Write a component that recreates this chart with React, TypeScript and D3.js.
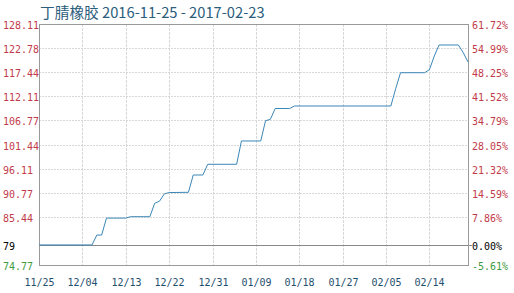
import React from "react";
import * as d3 from "d3";

const TITLE = "丁腈橡胶 2016-11-25 - 2017-02-23";
const BASE = 79.21;

const dates = [
  "2016-11-25", "2016-12-06", "2016-12-07", "2016-12-08", "2016-12-09", "2016-12-13",
  "2016-12-14", "2016-12-18", "2016-12-19", "2016-12-20", "2016-12-21", "2016-12-22",
  "2016-12-26", "2016-12-27", "2016-12-29", "2016-12-30", "2017-01-05", "2017-01-06",
  "2017-01-10", "2017-01-11", "2017-01-12", "2017-01-13", "2017-01-16", "2017-01-17",
  "2017-02-06", "2017-02-07", "2017-02-08", "2017-02-13", "2017-02-14", "2017-02-15",
  "2017-02-16", "2017-02-20", "2017-02-21", "2017-02-22",
];
const values = [
  79.21, 79.21, 81.4, 81.4, 85.15, 85.15,
  85.46, 85.46, 88.43, 88.9, 90.5, 90.8,
  90.86, 94.69, 94.69, 97.06, 97.06, 102.22,
  102.22, 106.71, 107.0, 109.41, 109.41, 109.96,
  109.96, 113.8, 117.33, 117.33, 118.0, 121.0,
  123.46, 123.46, 121.8, 119.7,
];

const yTickValues = [74.77, 79.21, 85.44, 90.77, 96.11, 101.44, 106.77, 112.11, 117.44, 122.78, 128.11];
const yTickLabels = ["74.77", "79", "85.44", "90.77", "96.11", "101.44", "106.77", "112.11", "117.44", "122.78", "128.11"];
const pctLabels = ["-5.61%", "0.00%", "7.86%", "14.59%", "21.32%", "28.05%", "34.79%", "41.52%", "48.25%", "54.99%", "61.72%"];
const xTickDates = ["2016-11-25", "2016-12-04", "2016-12-13", "2016-12-22", "2016-12-31", "2017-01-09", "2017-01-18", "2017-01-27", "2017-02-05", "2017-02-14"];
const xDomain = ["2016-11-25", "2017-02-22"];

const parse = d3.timeParse("%Y-%m-%d");
const fmt = d3.timeFormat("%m/%d");

const W = 514, H = 293;
const L = 39, R = 468, T = 24, B = 265;
const RED = "#c23b4a", GREEN = "#3e9b3e", BLUE = "#3a87b8";
const FONT = "'DejaVu Sans Mono', monospace";

export default function App() {
  const x = d3.scaleTime().domain(xDomain.map((d) => parse(d) as Date)).range([L, R]);
  const y = d3.scaleLinear().domain([74.77, 128.11]).range([B, T]);
  const pts = dates.map((d, i) => ({ t: parse(d) as Date, v: values[i] }));
  const line = d3.line<{ t: Date; v: number }>().x((d) => x(d.t)).y((d) => y(d.v));
  const colorFor = (v: number) => (Math.abs(v - BASE) < 0.01 ? "#000" : v > BASE ? RED : GREEN);

  return (
    <svg width={W} height={H} style={{ position: "absolute", left: 0, top: 0, background: "#fff" }}>
      <rect x={0} y={0} width={W} height={H} fill="#fff" />
      <text x={40} y={18} fontFamily="'Noto Sans CJK SC', sans-serif" fontSize={14.7} fill="#2b5d7c">
        {TITLE}
      </text>
      {xTickDates.map((d) => {
        const xx = Math.round(x(parse(d) as Date)) + 0.5;
        return (
          <g key={d}>
            <line x1={xx} x2={xx} y1={T} y2={B} stroke="#d8d8d8" strokeDasharray="3,1" />
            <text x={xx} y={286} textAnchor="middle" fontFamily={FONT} fontSize={10} fill="#1f4f6e">
              {fmt(parse(d) as Date)}
            </text>
          </g>
        );
      })}
      {yTickValues.map((v, i) => {
        const yy = Math.round(y(v)) + 0.5;
        const isBase = Math.abs(v - BASE) < 0.01;
        return (
          <g key={v}>
            {isBase ? (
              <line x1={L} x2={R + 4} y1={yy} y2={yy} stroke="#888" />
            ) : (
              <line x1={L} x2={R} y1={yy} y2={yy} stroke="#d8d8d8" strokeDasharray="2,1" />
            )}
            <text x={3} y={yy + 4} textAnchor="start" fontFamily={FONT} fontSize={10} fill={colorFor(v)}>
              {yTickLabels[i]}
            </text>
            <text x={472} y={yy + 4} textAnchor="start" fontFamily={FONT} fontSize={10} fill={colorFor(v)}>
              {pctLabels[i]}
            </text>
          </g>
        );
      })}
      <rect x={L + 0.5} y={T + 0.5} width={R - L} height={B - T} fill="none" stroke="#999" />
      <path d={line(pts) || ""} fill="none" stroke={BLUE} strokeWidth={1} />
    </svg>
  );
}
